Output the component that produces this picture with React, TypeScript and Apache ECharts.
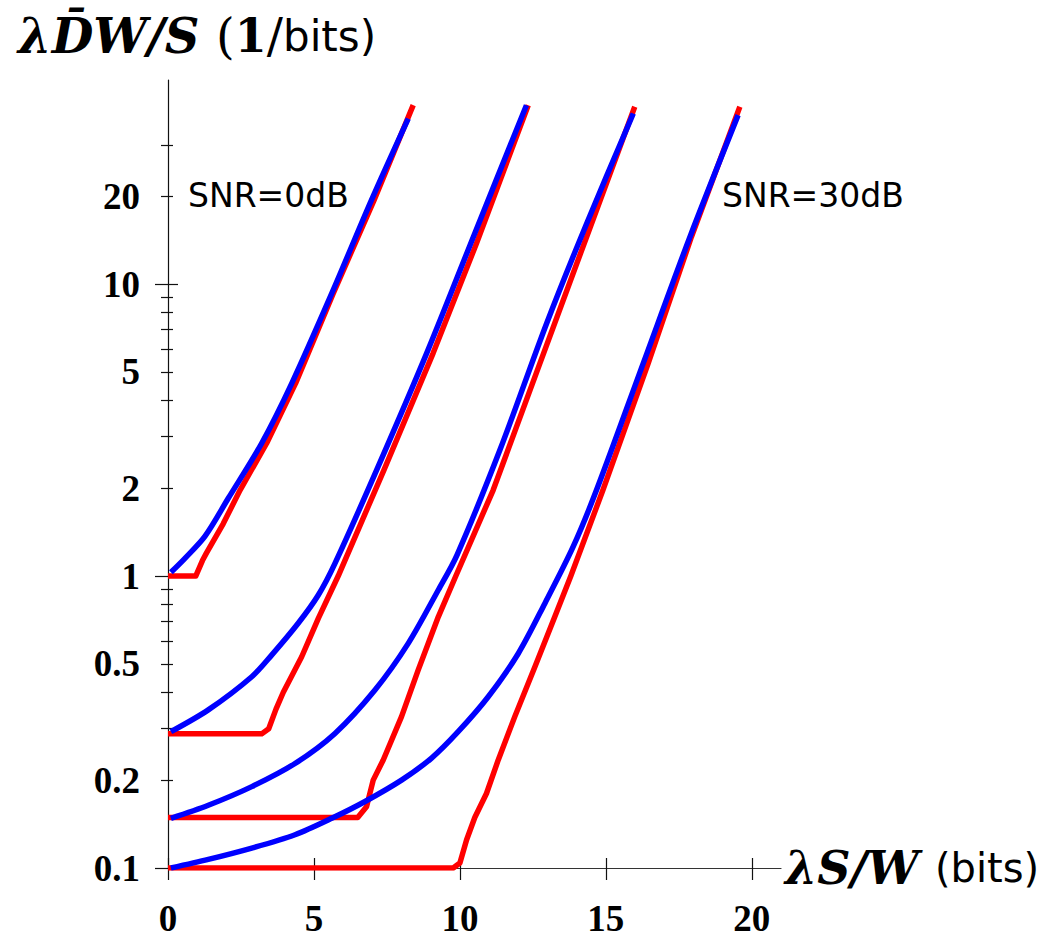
import React, { useEffect, useRef } from 'react';
import * as echarts from 'echarts';

// ---- axis ranges and ticks ----
const X_MIN = 0;
const X_MAX = 21;
const Y_MIN = 0.1;
const Y_MAX = 50;
const xTickValues = [0, 5, 10, 15, 20];
const yLabelValues = [0.1, 0.2, 0.5, 1, 2, 5, 10, 20];
const yMajorTicks = [0.1, 1, 10];
const yMinorTicks = [0.2, 0.3, 0.4, 0.5, 0.6, 0.7, 0.8, 0.9, 2, 3, 4, 5, 6, 7, 8, 9, 20, 30];

// ---- series data: [lambda S / W (bits), lambda D W / S (1/bits)] ----
const red0dB = [[0, 1.0], [0.95, 1.0], [1.18, 1.13], [1.32, 1.2], [1.89, 1.51], [2.47, 1.97], [3.38, 2.85], [4.37, 4.57], [5.66, 9.29], [7.06, 19.4], [8.4, 41]];
const blue0dB = [[0.1, 1.03], [0.58, 1.15], [1.27, 1.37], [2.07, 1.85], [3.21, 2.85], [4.24, 4.57], [5.61, 9.29], [6.97, 19.4], [8.23, 36.9]];

const red10dB = [[0, 0.288], [3.21, 0.288], [3.45, 0.3], [3.7, 0.35], [3.95, 0.4], [4.58, 0.529], [5.15, 0.716], [5.83, 1.0], [7.4, 2.31], [9.08, 5.79], [10.57, 13.8], [12.34, 41]];
const blue10dB = [[0.1, 0.293], [1.38, 0.348], [2.87, 0.452], [3.55, 0.536], [4.46, 0.689], [5.15, 0.861], [5.72, 1.105], [7.15, 2.31], [8.86, 5.79], [10.46, 14.5], [12.28, 41]];

const red20dB = [[0, 0.149], [6.5, 0.149], [6.8, 0.162], [7.03, 0.2], [7.37, 0.234], [8.0, 0.33], [8.57, 0.476], [9.26, 0.725], [9.86, 1.0], [11.14, 1.97], [12.74, 5.35], [14.34, 14.5], [15.99, 40.5]];
const blue20dB = [[0.1, 0.148], [1.38, 0.164], [2.87, 0.19], [4.35, 0.228], [5.72, 0.289], [7.09, 0.407], [8.23, 0.588], [9.26, 0.896], [9.9, 1.18], [11.37, 2.7], [12.97, 7.33], [14.34, 16.1], [15.94, 38.4]];

const red30dB = [[0, 0.1], [9.77, 0.1], [10.0, 0.104], [10.23, 0.125], [10.51, 0.149], [10.91, 0.18], [11.31, 0.234], [11.88, 0.33], [12.57, 0.489], [13.25, 0.725], [13.8, 1.0], [14.9, 1.97], [16.45, 5.35], [17.93, 14.5], [19.59, 40.5]];
const blue30dB = [[0.1, 0.1], [1.38, 0.107], [2.87, 0.117], [4.35, 0.13], [5.61, 0.148], [6.75, 0.169], [8.0, 0.2], [9.03, 0.238], [9.94, 0.293], [10.97, 0.386], [12.0, 0.543], [12.91, 0.806], [13.88, 1.26], [14.68, 1.97], [16.28, 5.35], [17.88, 14.5], [19.53, 37.9]];

const snrLabels = ['SNR=0dB', 'SNR=30dB'];

const RED = '#ff0000';
const BLUE = '#0000ff';
const AXIS_COLOR = '#111';
const LABEL_FONT = { fontFamily: 'Liberation Serif', fontWeight: 'bold' as const, fontSize: 37, color: '#000' };

function lineSeries(name: string, data: number[][], color: string, z: number, smooth: number) {
  return {
    type: 'line',
    name,
    data,
    xAxisIndex: 0,
    yAxisIndex: 0,
    symbol: 'none',
    showSymbol: false,
    silent: true,
    smooth,
    z,
    lineStyle: { color, width: 5.5, cap: 'butt', join: 'round' },
    itemStyle: { color },
  };
}

function tickYAxis(values: number[], length: number, inside: boolean, extra: any = {}) {
  return {
    type: 'value',
    position: 'left',
    min: Math.log10(Y_MIN),
    max: Math.log10(Y_MAX),
    splitLine: { show: false },
    axisLine: { show: false, onZero: false },
    axisLabel: { show: false },
    axisTick: {
      show: true,
      inside,
      length,
      customValues: values.map((v) => Math.log10(v)),
      lineStyle: { color: AXIS_COLOR, width: 1.2 },
    },
    ...extra,
  };
}

function buildOption() {
  return {
    animation: false,
    backgroundColor: '#fff',
    grid: { left: 168, right: 269, top: 80, bottom: 71, containLabel: false, outerBoundsMode: 'none' },
    xAxis: [
      {
        type: 'value',
        position: 'bottom',
        min: X_MIN,
        max: X_MAX,
        splitLine: { show: false },
        axisLine: { show: true, onZero: false, lineStyle: { color: '#333', width: 1.2 } },
        axisTick: { show: true, inside: false, length: 12, customValues: xTickValues, lineStyle: { color: AXIS_COLOR, width: 1.2 } },
        axisLabel: { show: true, customValues: xTickValues, margin: 32, ...LABEL_FONT },
      },
      {
        type: 'value',
        position: 'bottom',
        min: X_MIN,
        max: X_MAX,
        splitLine: { show: false },
        axisLine: { show: false, onZero: false },
        axisTick: { show: true, inside: true, length: 10, customValues: xTickValues, lineStyle: { color: AXIS_COLOR, width: 1.2 } },
        axisLabel: { show: false },
      },
    ],
    yAxis: [
      { type: 'log', logBase: 10, min: Y_MIN, max: Y_MAX, show: false, position: 'left', axisLine: { onZero: false } },
      tickYAxis(yMajorTicks, 13, false, {
        axisLine: { show: true, onZero: false, lineStyle: { color: AXIS_COLOR, width: 1.2 } },
        axisLabel: {
          show: true,
          margin: 28,
          customValues: yLabelValues.map((v) => Math.log10(v)),
          formatter: (v: number) => String(parseFloat(Math.pow(10, v).toPrecision(3))),
          ...LABEL_FONT,
        },
      }),
      tickYAxis(yMajorTicks, 10, true),
      tickYAxis(yMinorTicks, 7, false),
      tickYAxis(yMinorTicks, 5, true),
    ],
    graphic: [
      {
        type: 'text',
        x: 18,
        y: 36,
        silent: true,
        style: {
          text: '{m|λD\u0304W/S }{p|(}{b|1}{p|/}{s|bits)}',
          verticalAlign: 'middle',
          fill: '#000',
          rich: {
            m: { fontFamily: 'DejaVu Serif', fontStyle: 'italic', fontWeight: 'bold', fontSize: 48, fill: '#000' },
            p: { fontFamily: 'DejaVu Serif', fontSize: 48, fill: '#000' },
            b: { fontFamily: 'DejaVu Serif', fontWeight: 'bold', fontSize: 46, fill: '#000' },
            s: { fontFamily: 'DejaVu Sans', fontSize: 42, fill: '#000' },
          },
        },
      },
      {
        type: 'text',
        x: 785,
        y: 868,
        silent: true,
        style: {
          text: '{m|λS/W }{s|(bits)}',
          verticalAlign: 'middle',
          fill: '#000',
          rich: {
            m: { fontFamily: 'DejaVu Serif', fontStyle: 'italic', fontWeight: 'bold', fontSize: 46, fill: '#000' },
            s: { fontFamily: 'DejaVu Sans', fontSize: 40, fill: '#000' },
          },
        },
      },
      {
        type: 'text',
        x: 188,
        y: 195,
        silent: true,
        style: { text: snrLabels[0], fontFamily: 'DejaVu Sans', fontSize: 33, fill: '#000', verticalAlign: 'middle' },
      },
      {
        type: 'text',
        x: 722,
        y: 195,
        silent: true,
        style: { text: snrLabels[1], fontFamily: 'DejaVu Sans', fontSize: 33, fill: '#000', verticalAlign: 'middle' },
      },
    ],
    series: [
      lineSeries('red0dB', red0dB, RED, 2, 0),
      lineSeries('red10dB', red10dB, RED, 2, 0),
      lineSeries('red20dB', red20dB, RED, 2, 0),
      lineSeries('red30dB', red30dB, RED, 2, 0),
      lineSeries('blue0dB', blue0dB, BLUE, 3, 0.3),
      lineSeries('blue10dB', blue10dB, BLUE, 3, 0.3),
      lineSeries('blue20dB', blue20dB, BLUE, 3, 0.3),
      lineSeries('blue30dB', blue30dB, BLUE, 3, 0.3),
    ],
  };
}

export default function App() {
  const ref = useRef<HTMLDivElement>(null);
  useEffect(() => {
    document.body.style.margin = '0';
    const chart = echarts.init(ref.current as HTMLDivElement, null, { renderer: 'svg' });
    chart.setOption(buildOption() as any);
    return () => {
      chart.dispose();
    };
  }, []);
  return <div ref={ref} style={{ width: 1050, height: 939 }} />;
}
